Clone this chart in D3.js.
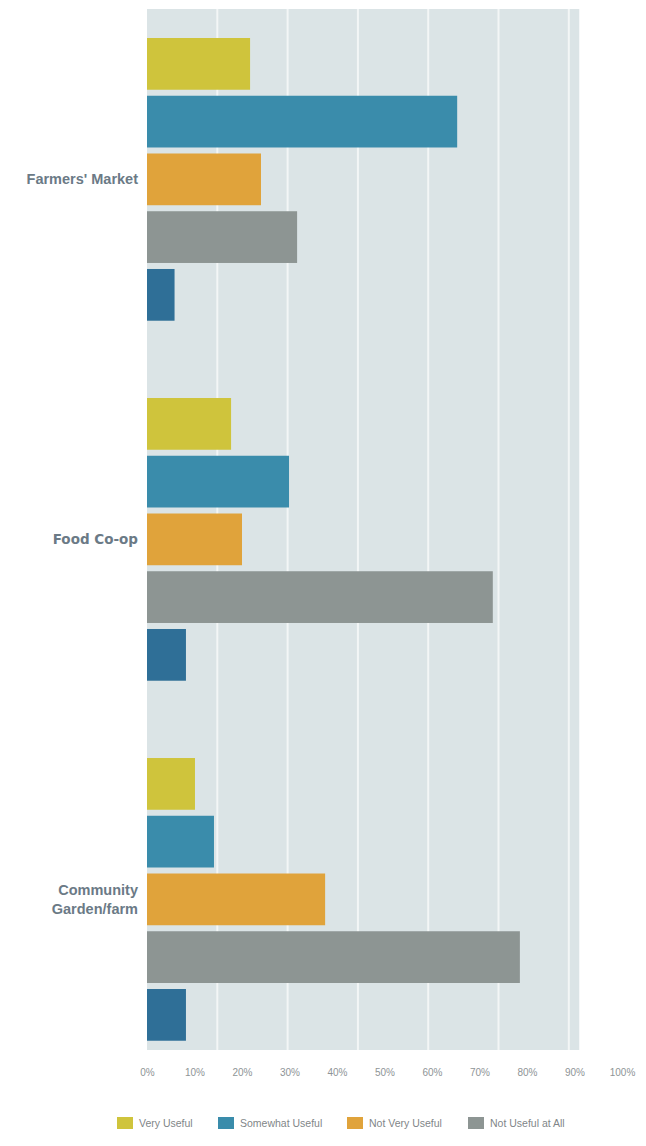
<!DOCTYPE html>
<html>
<head>
<meta charset="utf-8">
<script src="https://cdn.jsdelivr.net/npm/d3@7"></script>
<style>
  html, body { margin: 0; padding: 0; background: #ffffff; }
  svg { display: block; }
</style>
</head>
<body>
<svg id="chart" width="646" height="1146"></svg>
<script>
// ---- data ----
const categories = ["Farmers' Market", "Food Co-op", "Community Garden/farm"];
const seriesNames = ["Very Useful", "Somewhat Useful", "Not Very Useful", "Not Useful at All", "N/A"];
const legendNames = ["Very Useful", "Somewhat Useful", "Not Very Useful", "Not Useful at All"];
const veryUseful       = [21.7, 17.7, 10.1];
const somewhatUseful   = [65.3, 29.9, 14.1];
const notVeryUseful    = [24.0, 20.0, 37.5];
const notUsefulAtAll   = [31.6, 72.8, 78.5];
const notApplicable    = [5.8, 8.2, 8.2];
const tickValues = [0, 10, 20, 30, 40, 50, 60, 70, 80, 90, 100];
const tickLabels = ["0%", "10%", "20%", "30%", "40%", "50%", "60%", "70%", "80%", "90%", "100%"];
const gridValues = [14.8, 29.6, 44.4, 59.2, 74, 88.8];
const plotMax = 91;

const seriesValues = [veryUseful, somewhatUseful, notVeryUseful, notUsefulAtAll, notApplicable];
const colors = ["#cfc43c", "#3a8cab", "#e0a33b", "#8d9593", "#2f6f97"];

// ---- scales ----
const svg = d3.select("#chart");
const x = d3.scaleLinear().domain([0, 100]).range([147, 622]);
const y0 = d3.scaleBand().domain(categories).range([9, 1050])
  .paddingInner(0.198).paddingOuter(0.0448).align(0.806);
const y1 = d3.scaleBand().domain(seriesNames).range([0, y0.bandwidth()])
  .paddingInner(0.104).paddingOuter(0.052);
const color = d3.scaleOrdinal().domain(seriesNames).range(colors);

// plot background
svg.append("rect")
  .attr("x", x(0)).attr("y", 9)
  .attr("width", x(plotMax) - x(0)).attr("height", 1050 - 9)
  .attr("fill", "#dbe4e6");

// gridlines
svg.append("g").selectAll("line").data(gridValues).join("line")
  .attr("x1", d => x(d)).attr("x2", d => x(d))
  .attr("y1", 9).attr("y2", 1050)
  .attr("stroke", "#f3f6f6").attr("stroke-width", 2);

// bars
const rows = [];
categories.forEach((c, i) => {
  seriesNames.forEach((s, j) => rows.push({cat: c, series: s, value: seriesValues[j][i]}));
});
svg.append("g").selectAll("rect").data(rows).join("rect")
  .attr("x", x(0))
  .attr("y", d => y0(d.cat) + y1(d.series))
  .attr("width", d => x(d.value) - x(0))
  .attr("height", y1.bandwidth())
  .attr("fill", d => color(d.series));

// category labels
const catFonts = ["'Liberation Sans', Arial, sans-serif", "'DejaVu Sans', sans-serif", "'Liberation Sans', Arial, sans-serif"];
const catSizes = [14.5, 13.5, 14.5];
const labels = svg.append("g").selectAll("text").data(categories).join("text")
  .attr("x", 138)
  .attr("y", d => y0(d) + y0.bandwidth() / 2)
  .attr("text-anchor", "end")
  .attr("font-family", (d, i) => catFonts[i])
  .attr("font-size", (d, i) => catSizes[i])
  .attr("font-weight", "bold")
  .attr("fill", "#6b7a86");
labels.each(function(d) {
  const t = d3.select(this);
  const parts = d === "Community Garden/farm" ? ["Community", "Garden/farm"] : [d];
  const lh = 19;
  parts.forEach((p, k) => {
    t.append("tspan").attr("x", 138)
      .attr("dy", k === 0 ? (-(parts.length - 1) * lh / 2 + 5) : lh)
      .text(p);
  });
});

// x axis
const xAxis = d3.axisBottom(x).tickValues(tickValues)
  .tickFormat((d, i) => tickLabels[i]).tickSize(0).tickPadding(0);
const ax = svg.append("g").attr("transform", "translate(0,1069)").call(xAxis);
ax.select(".domain").remove();
ax.selectAll("text")
  .attr("font-family", "'Liberation Sans', Arial, sans-serif")
  .attr("font-size", 10)
  .attr("fill", "#8e9496");

// legend
const legendX = [117, 218, 347, 468];
const lg = svg.append("g").selectAll("g").data(legendNames).join("g")
  .attr("transform", (d, i) => `translate(${legendX[i]},1117)`);
lg.append("rect").attr("width", 16).attr("height", 12)
  .attr("fill", d => color(d));
lg.append("text").attr("x", 22).attr("y", 10)
  .attr("font-family", "'Liberation Sans', Arial, sans-serif")
  .attr("font-size", 10.5)
  .attr("fill", "#7f8688")
  .text(d => d);
</script>
</body>
</html>
